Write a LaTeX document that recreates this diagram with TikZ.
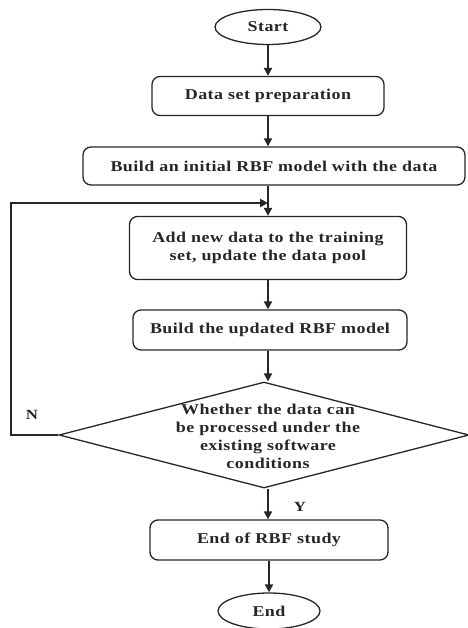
\documentclass[tikz,border=0pt]{standalone}
\usepackage{fontspec}
\setmainfont{Liberation Serif}[FakeStretch=1.2, LetterSpace=3]
\usetikzlibrary{shapes.geometric,arrows.meta}
\begin{document}
\begin{tikzpicture}[x=1pt,y=-1pt,
  every node/.style={font=\fontsize{15}{18}\selectfont\bfseries, text=black!85},
  box/.style={draw=black!85, line width=1.3pt, rounded corners=8pt, minimum width=#1, inner sep=0pt},
  term/.style={draw=black!85, line width=1.3pt, ellipse, inner sep=0pt},
  arr/.style={draw=black!85, line width=2pt, -{Triangle[length=8pt,width=8pt]}},
  lbl/.style={font=\fontsize{14}{16}\selectfont\bfseries}]
\useasboundingbox (0,0) rectangle (467,628);
\node[term, minimum width=106, minimum height=35] (start) at (268,27) {Start};
\node[box=232, minimum height=39] (prep) at (268,96) {Data set preparation};
\node[box=382, minimum height=38] (init) at (274,166) {Build an initial RBF model with the data};
\node[box=277, minimum height=63, align=center] (add) at (268,248) {Add new data to the training\\set, update the data pool};
\node[box=274, minimum height=40] (upd) at (270,330) {Build the updated RBF model};
\node[diamond, draw=black!85, line width=1.3pt, minimum width=410, minimum height=106, inner sep=0pt] (dec) at (264,435) {};
\node[align=center] (dectext) at (268,436) {Whether the data can\\be processed under the\\existing software\\conditions};
\node[box=238, minimum height=40] (endrbf) at (269,540) {End of RBF study};
\node[term, minimum width=102, minimum height=36] (end) at (269,611) {End};
\coordinate (j) at (268,203);
\node[lbl] (n) at (32,415) {N};
\node[lbl] (y) at (300,507) {Y};
\draw[arr] (start.south) -- (prep.north);
\draw[arr] (prep.south) -- (prep.south |- init.north);
\draw[arr] (init.south -| j) -- (j |- add.north);
\draw[arr] (add.south) -- (add.south |- upd.north);
\draw[arr] (upd.south -| j) -- (j |- dec.north);
\draw[arr] (dec.south -| j) -- (j |- endrbf.north);
\draw[arr] (endrbf.south) -- (end.north);
\draw[arr] (dec.west) -- ++(-47,0) |- (j);
\end{tikzpicture}
\end{document}
